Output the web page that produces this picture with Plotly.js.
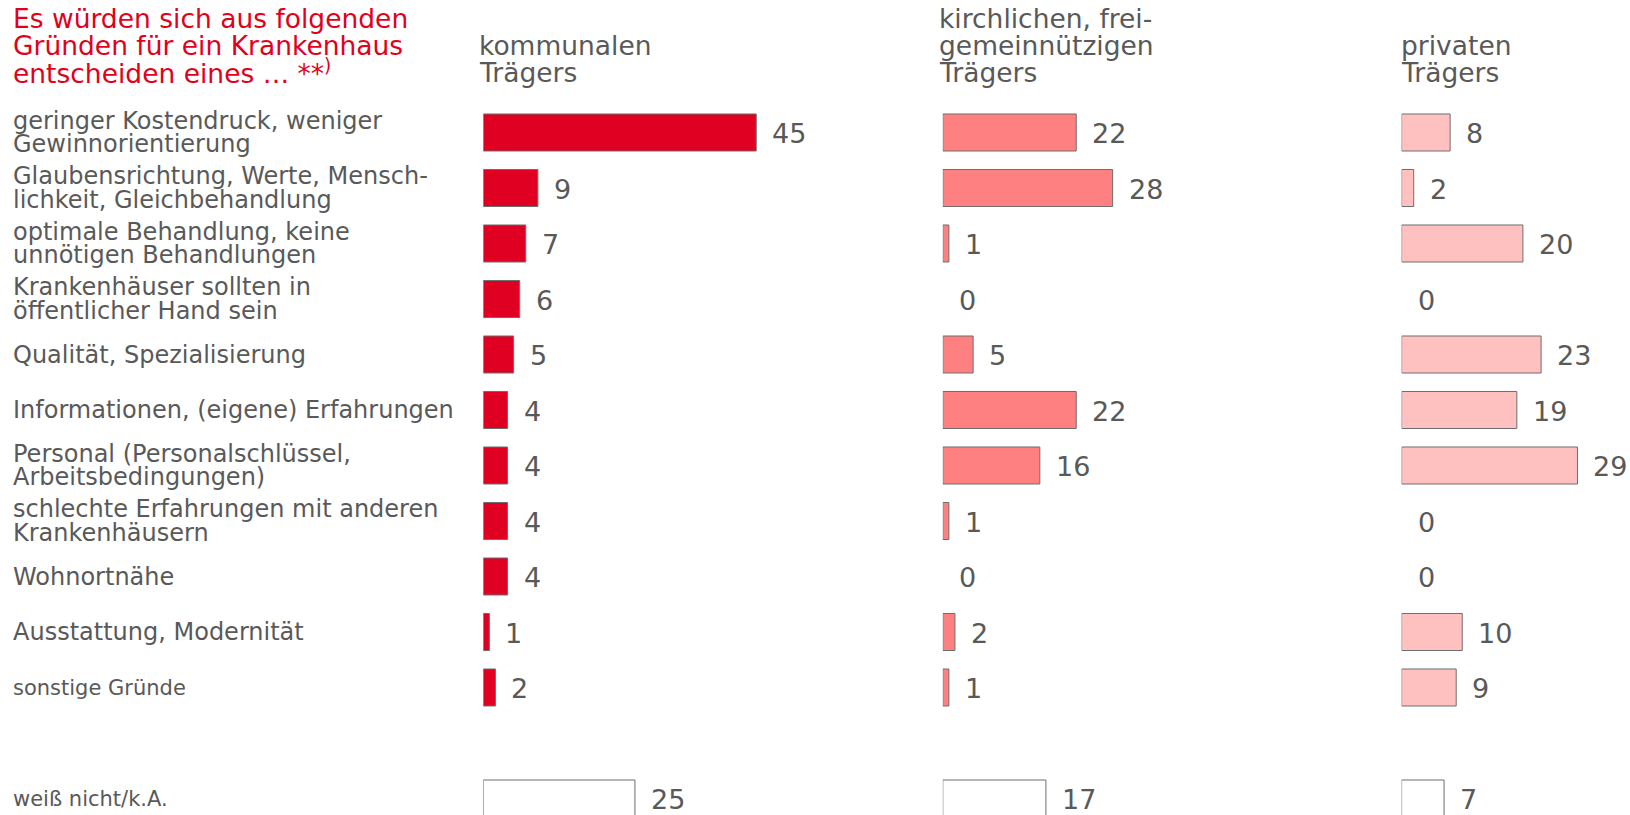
<!DOCTYPE html>
<html>
<head>
<meta charset="utf-8">
<script src="https://cdn.plot.ly/plotly-3.0.1.min.js"></script>
<style>html,body{margin:0;padding:0;background:#fff;}#chart{width:1630px;height:815px;}</style>
</head>
<body>
<div id="chart"></div>
<script>
// ---------- DATA ----------
const chartTitle = "Es würden sich aus folgenden<br>Gründen für ein Krankenhaus<br>entscheiden eines … **<sup>)</sup>";
const columnTitles = [
  "kommunalen<br>Trägers",
  "kirchlichen, frei-<br>gemeinnützigen<br>Trägers",
  "privaten<br>Trägers"
];
const categories = [
  "geringer Kostendruck, weniger<br>Gewinnorientierung",
  "Glaubensrichtung, Werte, Mensch-<br>lichkeit, Gleichbehandlung",
  "optimale Behandlung, keine<br>unnötigen Behandlungen",
  "Krankenhäuser sollten in<br>öffentlicher Hand sein",
  "Qualität, Spezialisierung",
  "Informationen, (eigene) Erfahrungen",
  "Personal (Personalschlüssel,<br>Arbeitsbedingungen)",
  "schlechte Erfahrungen mit anderen<br>Krankenhäusern",
  "Wohnortnähe",
  "Ausstattung, Modernität",
  "sonstige Gründe",
  "weiß nicht/k.A."
];
const kommunal  = [45, 9, 7, 6, 5, 4, 4, 4, 4, 1, 2, 25];
const kirchlich = [22, 28, 1, 0, 5, 22, 16, 1, 0, 2, 1, 17];
const privat    = [8, 2, 20, 0, 23, 19, 29, 0, 0, 10, 9, 7];

// ---------- STYLE / LAYOUT ----------
const W = 1630, H = 815;
const FONT = "DejaVu Sans, Verdana, sans-serif";
const GREY = "#595959";
const RED = "#e2001a";
const colFills = ["#e00022", "#ff8080", "#ffc0c0"];
const pxPerUnit = 6.065;
const colStarts = [483.3, 942.8, 1401.6];
const colEnds = [883, 1343, 1630];
const headerX = [477, 937, 1399];
const rowPx0 = 132.5, rowStep = 55.5;
const smallLabels = new Set(["sonstige Gründe", "weiß nicht/k.A."]);

// row positions: one empty slot before the last category
const rowPos = categories.map((c, i) => i < categories.length - 1 ? i : i + 1);
const yTop = -rowPx0 / rowStep;
const yBottom = yTop + H / rowStep;

const series = [kommunal, kirchlich, privat];
const axisIds = ["x", "x2", "x3"];
const traces = series.map((vals, k) => ({
  type: "bar",
  orientation: "h",
  x: vals,
  y: rowPos,
  xaxis: axisIds[k],
  yaxis: "y",
  width: 0.667,
  marker: {
    color: vals.map((v, i) => i === vals.length - 1 ? "#ffffff" : colFills[k]),
    line: { color: "#6e6e6e", width: vals.map(v => v === 0 ? 0 : 1) }
  },
  hoverinfo: "x+y",
  cliponaxis: false
}));

const py = px => 1 - px / H;
const annotations = [];

// title lines
const titleLines = chartTitle.split("<br>");
titleLines.forEach((t, k) => {
  annotations.push({
    xref: "paper", yref: "paper", x: 11 / W, y: py(19 + k * 26.7),
    xanchor: "left", yanchor: "middle", showarrow: false, text: t,
    font: { family: FONT, size: 26.5, color: RED }
  });
});
// column headers (bottom aligned)
columnTitles.forEach((ct, c) => {
  const lines = ct.split("<br>");
  lines.forEach((t, k) => {
    annotations.push({
      xref: "paper", yref: "paper", x: headerX[c] / W,
      y: py(72.4 - (lines.length - 1 - k) * 26.7),
      xanchor: "left", yanchor: "middle", showarrow: false, text: t,
      font: { family: FONT, size: 26.5, color: GREY }
    });
  });
});
// category labels (tight line spacing)
categories.forEach((cat, i) => {
  const lines = cat.split("<br>");
  const small = smallLabels.has(cat);
  const lh = 23.5;
  lines.forEach((t, k) => {
    annotations.push({
      xref: "paper", yref: "y", x: 11 / W, y: rowPos[i],
      yshift: -((k - (lines.length - 1) / 2) * lh),
      xanchor: "left", yanchor: "middle", showarrow: false, text: t,
      font: { family: FONT, size: small ? 21 : 24, color: GREY }
    });
  });
});
// value labels
series.forEach((vals, k) => {
  vals.forEach((v, i) => {
    annotations.push({
      xref: axisIds[k], yref: "y", x: v, y: rowPos[i], xshift: 14, yshift: -1,
      xanchor: "left", yanchor: "middle", showarrow: false, text: String(v),
      font: { family: FONT, size: 27, color: GREY }
    });
  });
});

const hiddenAxis = { visible: false, showgrid: false, zeroline: false, fixedrange: true };
const layout = {
  width: W, height: H,
  margin: { l: 0, r: 0, t: 0, b: 0 },
  paper_bgcolor: "#ffffff", plot_bgcolor: "#ffffff",
  showlegend: false,
  bargap: 0,
  yaxis: Object.assign({}, hiddenAxis, { range: [yBottom, yTop] }),
  annotations: annotations
};
axisIds.forEach((id, k) => {
  const name = id === "x" ? "xaxis" : "xaxis" + id.slice(1);
  layout[name] = Object.assign({}, hiddenAxis, {
    domain: [colStarts[k] / W, colEnds[k] / W],
    range: [0, (colEnds[k] - colStarts[k]) / pxPerUnit],
    anchor: "y"
  });
});

Plotly.newPlot("chart", traces, layout, { displayModeBar: false, staticPlot: true });
</script>
</body>
</html>
